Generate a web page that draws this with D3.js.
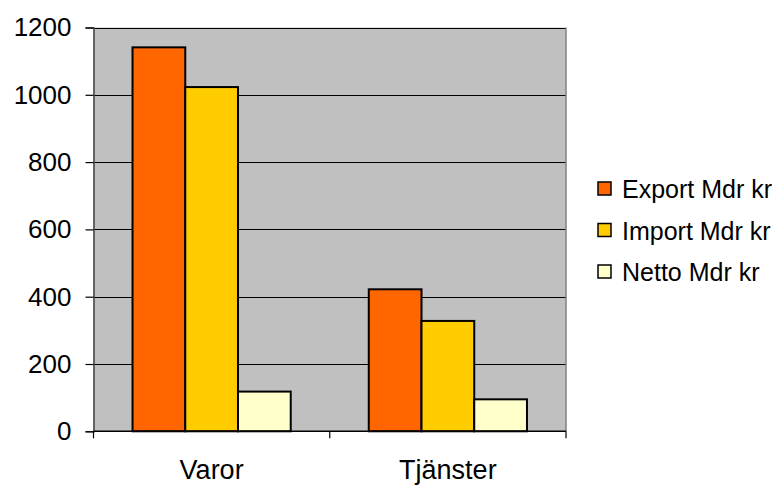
<!DOCTYPE html>
<html><head><meta charset="utf-8">
<script src="https://cdn.jsdelivr.net/npm/d3@7"></script>
<style>body{margin:0;background:#fff}svg{display:block}text{font-family:"Liberation Sans",Arial,sans-serif;fill:#000}</style>
</head><body>
<svg id="c" width="781" height="485"></svg>
<script>
const categories = ["Varor", "Tjänster"];
const seriesNames = ["Export Mdr kr", "Import Mdr kr", "Netto Mdr kr"];
const exportVals = [1141, 422];
const importVals = [1023, 328];
const nettoVals = [118, 95];
const yTicks = [0, 200, 400, 600, 800, 1000, 1200];
const colors = ["#FF6600", "#FFCC00", "#FFFFCC"];

const series = [exportVals, importVals, nettoVals];
const svg = d3.select("#c");
const m = {left: 93.5, top: 27.5, right: 566, bottom: 431.3};

const x = d3.scaleBand().domain(categories).range([m.left, m.right]).paddingInner(0).paddingOuter(0);
const y = d3.scaleLinear().domain([0, 1200]).range([m.bottom, m.top]);
const inner = d3.scaleBand().domain(d3.range(series.length)).range([0, x.bandwidth()]).paddingOuter(0.74).paddingInner(0);

svg.append("rect").attr("x", m.left).attr("y", m.top).attr("width", m.right - m.left).attr("height", m.bottom - m.top).attr("fill", "#C0C0C0");

// gridlines
svg.append("g").selectAll("line").data(yTicks.filter(d => d > 0)).join("line")
  .attr("x1", m.left).attr("x2", m.right).attr("y1", d => Math.round(y(d)) + 0.5).attr("y2", d => Math.round(y(d)) + 0.5)
  .attr("stroke", "#000").attr("stroke-width", 1);

// right border
svg.append("line").attr("x1", m.right).attr("x2", m.right).attr("y1", m.top).attr("y2", m.bottom).attr("stroke", "#808080").attr("stroke-width", 1.5);

// bars
series.forEach((vals, si) => {
  svg.append("g").selectAll("rect").data(categories).join("rect")
    .attr("x", c => x(c) + inner(si))
    .attr("y", (c, i) => y(vals[i]))
    .attr("width", inner.bandwidth())
    .attr("height", (c, i) => y(0) - y(vals[i]))
    .attr("fill", colors[si]).attr("stroke", "#000").attr("stroke-width", 2);
});

// y axis
const yAxis = d3.axisLeft(y).tickValues(yTicks).tickSize(8).tickPadding(14).tickFormat(d3.format("d"));
const gy = svg.append("g").attr("transform", `translate(${m.left},0)`).call(yAxis);
gy.select(".domain").attr("stroke", "#404040").attr("stroke-width", 1.5);
gy.selectAll(".tick line").attr("stroke", "#000").attr("stroke-width", 1.2);
gy.selectAll(".tick text").style("font-size", "26px").style("font-family", "Liberation Sans, Arial, sans-serif").attr("fill", "#000");

// x axis
const gx = svg.append("g").attr("transform", `translate(0,${m.bottom})`);
gx.append("line").attr("x1", m.left).attr("x2", m.right).attr("y1", 0).attr("y2", 0).attr("stroke", "#000").attr("stroke-width", 1.5);
const bounds = [m.left, ...categories.map(c => x(c) + x.bandwidth())];
gx.selectAll("line.t").data(bounds).join("line").attr("class", "t")
  .attr("x1", d => d).attr("x2", d => d).attr("y1", 0).attr("y2", 7).attr("stroke", "#000").attr("stroke-width", 1.2);
gx.selectAll("text").data(categories).join("text")
  .attr("x", c => x(c) + x.bandwidth() / 2).attr("y", 48).attr("text-anchor", "middle")
  .style("font-size", "27px").text(c => c);

// legend
const lg = svg.append("g").attr("transform", "translate(598,182)");
seriesNames.forEach((n, i) => {
  const row = lg.append("g").attr("transform", `translate(0,${i * 41.5})`);
  row.append("rect").attr("x", 0).attr("y", 0).attr("width", 13).attr("height", 13).attr("fill", colors[i]).attr("stroke", "#000").attr("stroke-width", 1.5);
  row.append("text").attr("x", 24).attr("y", 16).style("font-size", "25px").text(n);
});
</script>
</body></html>
